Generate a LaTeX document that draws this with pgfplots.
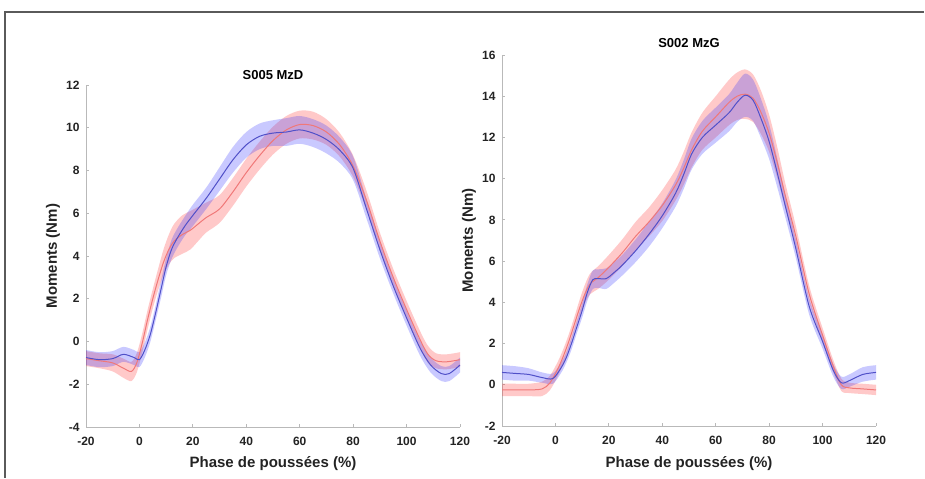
\documentclass[border=0pt]{standalone}
\usepackage{pgfplots}
\pgfplotsset{compat=1.18}
\usepackage{pgfplotstable}
\usepgfplotslibrary{fillbetween}
\usepackage{fontspec}
\setmainfont{Liberation Sans}

\definecolor{bandred}{RGB}{255,40,40}
\definecolor{bandblue}{RGB}{40,40,255}
\definecolor{linered}{RGB}{240,120,120}
\definecolor{lineblue}{RGB}{80,80,200}
\definecolor{axgray}{RGB}{185,185,185}
\definecolor{txt}{RGB}{35,35,35}
\definecolor{frame}{RGB}{90,90,90}

% S005 MzD - blue (x, mean, lo, hi)
\pgfplotstableread{
x m lo hi
-20 -0.75 -1.10 -0.40
-15 -0.85 -1.20 -0.50
-10 -0.80 -1.15 -0.45
-6 -0.60 -0.95 -0.25
-2 -0.75 -1.10 -0.40
0 -0.85 -1.20 -0.50
2 -0.40 -0.75 -0.05
4 0.30 -0.05 0.65
6 1.30 0.95 1.65
8 2.40 2.00 2.80
10 3.50 3.10 3.90
12 4.30 3.85 4.75
14 4.80 4.35 5.25
17 5.40 4.95 5.85
20 5.90 5.40 6.40
25 6.70 6.20 7.20
30 7.60 7.05 8.15
35 8.50 7.90 9.10
40 9.20 8.60 9.80
45 9.60 9.00 10.20
50 9.75 9.15 10.35
55 9.80 9.15 10.45
60 9.90 9.25 10.55
65 9.75 9.10 10.40
70 9.45 8.80 10.10
75 8.95 8.35 9.55
80 8.10 7.55 8.65
85 6.20 5.75 6.65
90 4.30 3.90 4.70
95 2.60 2.25 2.95
100 1.10 0.75 1.45
105 -0.30 -0.65 0.05
109 -1.10 -1.45 -0.75
113 -1.50 -1.85 -1.15
116 -1.50 -1.85 -1.15
120 -1.10 -1.45 -0.75
}\LB
% S005 MzD - red
\pgfplotstableread{
x m lo hi
-20 -0.80 -1.15 -0.45
-15 -0.90 -1.25 -0.55
-10 -1.00 -1.40 -0.60
-6 -1.25 -1.70 -0.80
-3 -1.40 -1.85 -0.95
-1 -1.00 -1.45 -0.55
1 -0.10 -0.55 0.35
3 1.00 0.55 1.45
5 2.00 1.55 2.45
7 2.90 2.40 3.40
9 3.70 3.10 4.30
11 4.30 3.60 5.00
13 4.70 3.90 5.50
16 5.00 4.10 5.90
19 5.20 4.30 6.10
22 5.50 4.70 6.30
25 5.80 5.10 6.50
30 6.20 5.55 6.85
35 7.00 6.35 7.65
40 7.90 7.25 8.55
45 8.70 8.05 9.35
50 9.40 8.75 10.05
55 9.90 9.25 10.55
60 10.15 9.50 10.80
65 10.10 9.45 10.75
70 9.80 9.20 10.40
75 9.20 8.65 9.75
80 8.20 7.70 8.70
85 6.60 6.15 7.05
90 4.70 4.30 5.10
95 3.00 2.60 3.40
100 1.50 1.10 1.90
105 0.10 -0.30 0.50
108 -0.60 -1.00 -0.20
111 -0.90 -1.25 -0.55
115 -0.95 -1.30 -0.60
120 -0.85 -1.20 -0.50
}\LR
% S002 MzG - blue
\pgfplotstableread{
x m lo hi
-20 0.60 0.25 0.95
-15 0.55 0.20 0.90
-10 0.50 0.20 0.80
-5 0.35 0.10 0.60
-1 0.30 0.05 0.55
2 0.80 0.55 1.05
4 1.30 1.05 1.55
6 2.00 1.70 2.30
8 2.80 2.50 3.10
10 3.60 3.25 3.95
12 4.50 4.10 4.90
14 5.10 4.65 5.55
16 5.15 4.70 5.60
19 5.15 4.65 5.65
22 5.45 4.95 5.95
25 5.80 5.30 6.30
30 6.50 5.95 7.05
35 7.30 6.70 7.90
40 8.20 7.60 8.80
45 9.30 8.65 9.95
48 10.20 9.50 10.90
51 11.20 10.45 11.95
55 12.00 11.20 12.80
60 12.60 11.75 13.45
65 13.20 12.30 14.10
68 13.70 12.75 14.65
71 14.05 13.00 15.10
74 13.80 12.80 14.80
77 12.90 11.95 13.85
80 11.80 10.95 12.65
83 10.30 9.60 11.00
86 8.70 8.15 9.25
90 6.60 6.15 7.05
95 3.80 3.40 4.20
100 2.10 1.75 2.45
104 0.70 0.40 1.00
107 0.10 -0.20 0.40
110 0.20 -0.10 0.50
115 0.50 0.15 0.85
120 0.60 0.25 0.95
}\RB
% S002 MzG - red
\pgfplotstableread{
x m lo hi
-20 -0.25 -0.55 0.05
-15 -0.25 -0.55 0.05
-10 -0.25 -0.55 0.05
-5 -0.20 -0.55 0.15
-2 0.10 -0.25 0.45
1 0.80 0.45 1.15
3 1.40 1.05 1.75
5 2.10 1.75 2.45
7 2.90 2.55 3.25
9 3.70 3.30 4.10
11 4.40 3.95 4.85
13 4.90 4.40 5.40
16 5.20 4.65 5.75
20 5.70 5.10 6.30
25 6.40 5.75 7.05
30 7.20 6.50 7.90
35 7.90 7.20 8.60
40 8.70 7.95 9.45
45 9.70 8.95 10.45
48 10.50 9.70 11.30
51 11.40 10.55 12.25
55 12.30 11.40 13.20
60 13.00 12.00 14.00
65 13.70 12.60 14.80
68 14.00 12.85 15.15
71 14.10 12.90 15.30
74 13.90 12.75 15.05
77 13.20 12.15 14.25
80 12.20 11.30 13.10
83 10.80 10.05 11.55
86 9.20 8.60 9.80
90 7.20 6.70 7.70
95 4.40 4.00 4.80
100 2.40 2.05 2.75
104 0.90 0.60 1.20
107 0.00 -0.30 0.30
110 -0.15 -0.40 0.10
115 -0.20 -0.45 0.05
120 -0.25 -0.50 0.00
}\RR

\pgfplotsset{
  every axis title shift=0pt,
  momstyle/.style={
    scale only axis, width=374pt,
    xmin=-20, xmax=120, xtick={-20,0,...,120},
    axis x line*=bottom, axis y line*=left,
    axis line style={axgray, line width=0.8pt},
    tick style={axgray, line width=0.8pt},
    major tick length=3pt, tick align=inside,
    /pgf/number format/assume math mode=true,
    ticklabel style={font=\fontsize{12}{12}\selectfont\bfseries, text=txt},
    xticklabel style={yshift=-7pt},
    yticklabel style={xshift=-3pt},
    xlabel={Phase de poussées (\%)},
    ylabel={Moments (Nm)},
    label style={font=\fontsize{15}{15}\selectfont\bfseries, text=txt},
    title style={font=\fontsize{13}{13}\selectfont\bfseries, text=black},
    clip=false,
  },
  bandr/.style={fill=bandred, fill opacity=0.25, draw=none},
  bandb/.style={fill=bandblue, fill opacity=0.25, draw=none},
}

\begin{document}
\begin{tikzpicture}
\path (0,0) rectangle (925pt,478pt);
\draw[frame, line width=1.3pt] (5pt,0pt) -- (5pt,466pt) -- (924.3pt,466pt);

% ---------- left ----------
\begin{axis}[momstyle, at={(86pt,51pt)}, anchor=south west, height=342pt,
  ymin=-4, ymax=12, ytick={-4,-2,...,12},
  title={S005 MzD},
  title style={at={(axis description cs:0.5,1.029)}, anchor=center, yshift=0pt},
  xlabel style={at={(axis description cs:0.5,-0.108)}, anchor=center},
  ylabel style={at={(axis description cs:-0.088,0.5)}, anchor=center},
]
\addplot[draw=none, smooth, name path=lrl, forget plot] table[x=x,y=lo]{\LR};
\addplot[draw=none, smooth, name path=lrh, forget plot] table[x=x,y=hi]{\LR};
\addplot[bandr, forget plot] fill between[of=lrl and lrh];
\addplot[draw=none, smooth, name path=lbl, forget plot] table[x=x,y=lo]{\LB};
\addplot[draw=none, smooth, name path=lbh, forget plot] table[x=x,y=hi]{\LB};
\addplot[bandb, forget plot] fill between[of=lbl and lbh];
\addplot[linered, line width=1pt, smooth] table[x=x,y=m]{\LR};
\addplot[lineblue, line width=1pt, smooth] table[x=x,y=m]{\LB};
\end{axis}

% ---------- right ----------
\begin{axis}[momstyle, at={(502pt,52pt)}, anchor=south west, height=371pt,
  ymin=-2, ymax=16, ytick={-2,0,...,16},
  title={S002 MzG},
  title style={at={(axis description cs:0.5,1.032)}, anchor=center, yshift=0pt},
  xlabel style={at={(axis description cs:0.5,-0.1)}, anchor=center},
  ylabel style={at={(axis description cs:-0.088,0.5)}, anchor=center},
]
\addplot[draw=none, smooth, name path=rrl, forget plot] table[x=x,y=lo]{\RR};
\addplot[draw=none, smooth, name path=rrh, forget plot] table[x=x,y=hi]{\RR};
\addplot[bandr, forget plot] fill between[of=rrl and rrh];
\addplot[draw=none, smooth, name path=rbl, forget plot] table[x=x,y=lo]{\RB};
\addplot[draw=none, smooth, name path=rbh, forget plot] table[x=x,y=hi]{\RB};
\addplot[bandb, forget plot] fill between[of=rbl and rbh];
\addplot[linered, line width=1pt, smooth] table[x=x,y=m]{\RR};
\addplot[lineblue, line width=1pt, smooth] table[x=x,y=m]{\RB};
\end{axis}
\end{tikzpicture}
\end{document}
